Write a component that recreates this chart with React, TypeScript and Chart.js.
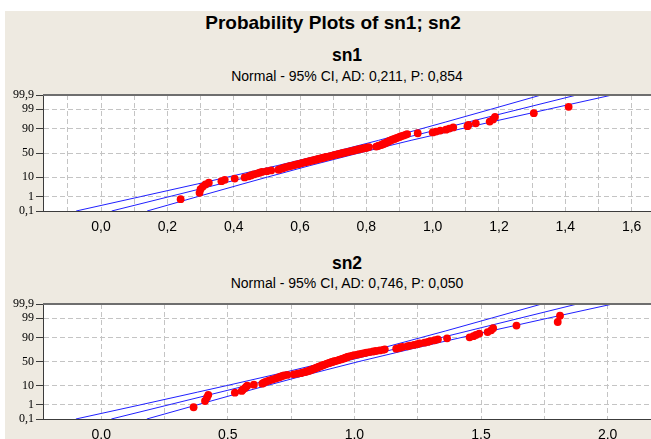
import React, { useEffect, useRef } from 'react';
import { Chart, registerables } from 'chart.js';

Chart.register(...registerables);

// ---------- data ----------
const PROB_TICKS = [0.1, 1, 10, 50, 90, 99, 99.9];
const PROB_LABELS = ['0,1', '1', '10', '50', '90', '99', '99,9'];
const BAND_PCTS = [0.1, 1, 5, 10, 25, 50, 75, 90, 95, 99, 99.9];
const FIT_PCTS = [0.1, 99.9];

const sn1 = [
  0.240, 0.297, 0.300, 0.307, 0.315, 0.325, 0.363, 0.373, 0.403, 0.433,
  0.445, 0.452, 0.460, 0.470, 0.478, 0.485, 0.500, 0.513, 0.535, 0.540,
  0.546, 0.552, 0.558, 0.566, 0.572, 0.580, 0.586, 0.594, 0.600, 0.606,
  0.612, 0.619, 0.626, 0.632, 0.638, 0.645, 0.650, 0.656, 0.662, 0.668,
  0.673, 0.679, 0.686, 0.692, 0.698, 0.703, 0.709, 0.715, 0.721, 0.727,
  0.733, 0.739, 0.745, 0.751, 0.757, 0.763, 0.769, 0.775, 0.782, 0.790,
  0.797, 0.803, 0.808, 0.830, 0.835, 0.838, 0.844, 0.848, 0.852, 0.855,
  0.858, 0.862, 0.865, 0.868, 0.872, 0.875, 0.880, 0.885, 0.890, 0.895,
  0.900, 0.905, 0.912, 0.918, 0.923, 0.955, 1.000, 1.010, 1.023, 1.040,
  1.050, 1.062, 1.105, 1.108, 1.130, 1.172, 1.182, 1.188, 1.305, 1.410,
];
const sn1Fit = [0.032, 1.434];
const sn1BandLow = [-0.075, 0.119, 0.292, 0.382, 0.531, 0.689, 0.837, 0.964, 1.038, 1.175, 1.327];
const sn1BandHigh = [0.139, 0.291, 0.428, 0.502, 0.629, 0.778, 0.935, 1.084, 1.174, 1.347, 1.541];
const sn1XTicks = [-0.1, 0, 0.1, 0.2, 0.3, 0.4, 0.5, 0.6, 0.7, 0.8, 0.9, 1.0, 1.1, 1.2, 1.3, 1.4, 1.5, 1.6, 1.7, 1.8, 1.9];
const sn1XLabels = ['', '0,0', '', '0,2', '', '0,4', '', '0,6', '', '0,8', '', '1,0', '', '1,2', '', '1,4', '', '1,6', '', '1,8', ''];

const sn2 = [
  0.365, 0.410, 0.418, 0.423, 0.528, 0.555, 0.560, 0.568, 0.572, 0.577,
  0.603, 0.636, 0.642, 0.649, 0.657, 0.665, 0.675, 0.685, 0.693, 0.701,
  0.708, 0.714, 0.722, 0.735, 0.760, 0.775, 0.787, 0.795, 0.805, 0.812,
  0.819, 0.824, 0.829, 0.834, 0.839, 0.844, 0.849, 0.854, 0.858, 0.863,
  0.868, 0.873, 0.878, 0.883, 0.888, 0.893, 0.898, 0.904, 0.909, 0.915,
  0.921, 0.928, 0.935, 0.940, 0.946, 0.952, 0.958, 0.963, 0.968, 0.972,
  0.976, 0.985, 0.993, 1.000, 1.012, 1.020, 1.030, 1.040, 1.048, 1.060,
  1.074, 1.085, 1.100, 1.113, 1.120, 1.165, 1.175, 1.183, 1.190, 1.210,
  1.220, 1.235, 1.248, 1.258, 1.277, 1.290, 1.300, 1.317, 1.330, 1.366,
  1.455, 1.470, 1.480, 1.493, 1.526, 1.540, 1.548, 1.640, 1.803, 1.812,
];
const sn2Fit = [0.040, 1.880];
const sn2BandLow = [-0.100, 0.156, 0.381, 0.500, 0.695, 0.902, 1.096, 1.262, 1.361, 1.540, 1.740];
const sn2BandHigh = [0.180, 0.380, 0.560, 0.657, 0.824, 1.018, 1.225, 1.420, 1.539, 1.764, 2.020];
const sn2XTicks = [0, 0.25, 0.5, 0.75, 1.0, 1.25, 1.5, 1.75, 2.0, 2.25, 2.5];
const sn2XLabels = ['0.0', '', '0.5', '', '1.0', '', '1.5', '', '2.0', '', '2.5'];

// ---------- helpers ----------
function probit(p: number): number {
  const a = [-3.969683028665376e1, 2.209460984245205e2, -2.759285104469687e2, 1.38357751867269e2, -3.066479806614716e1, 2.506628277459239];
  const b = [-5.447609879822406e1, 1.615858368580409e2, -1.556989798598866e2, 6.680131188771972e1, -1.328068155288572e1];
  const c = [-7.784894002430293e-3, -3.223964580411365e-1, -2.400758277161838, -2.549732539343734, 4.374664141464968, 2.938163982698783];
  const d = [7.784695709041462e-3, 3.224671290700398e-1, 2.445134137142996, 3.754408661907416];
  const pl = 0.02425;
  if (p < pl) {
    const q = Math.sqrt(-2 * Math.log(p));
    return (((((c[0] * q + c[1]) * q + c[2]) * q + c[3]) * q + c[4]) * q + c[5]) / ((((d[0] * q + d[1]) * q + d[2]) * q + d[3]) * q + 1);
  }
  if (p <= 1 - pl) {
    const q = p - 0.5;
    const r = q * q;
    return ((((((a[0] * r + a[1]) * r + a[2]) * r + a[3]) * r + a[4]) * r + a[5]) * q) / (((((b[0] * r + b[1]) * r + b[2]) * r + b[3]) * r + b[4]) * r + 1);
  }
  const q = Math.sqrt(-2 * Math.log(1 - p));
  return -(((((c[0] * q + c[1]) * q + c[2]) * q + c[3]) * q + c[4]) * q + c[5]) / ((((d[0] * q + d[1]) * q + d[2]) * q + d[3]) * q + 1);
}
const zOf = (pct: number) => probit(pct / 100);
const Z_MIN = zOf(0.1);
const Z_MAX = zOf(99.9);

const CANVAS_W = 760;
const CANVAS_H = 160;
const PLOT_TOP = 10;
const LEFT_W = 43;

interface PanelProps {
  top: number;
  values: number[];
  fit: number[];
  bandLow: number[];
  bandHigh: number[];
  xMin: number;
  xMax: number;
  xTicks: number[];
  xLabels: string[];
  plotH: number;
}

function Panel(props: PanelProps) {
  const ref = useRef<HTMLCanvasElement | null>(null);
  useEffect(() => {
    const canvas = ref.current;
    if (!canvas) return;
    const n = props.values.length;
    const pts = props.values.map((v, i) => ({ x: v, y: zOf(((i + 1 - 0.3) / (n + 0.4)) * 100) }));
    const line = (xs: number[], ps: number[]) => xs.map((x, i) => ({ x, y: zOf(ps[i]) }));
    const lineStyle = {
      showLine: true,
      borderColor: '#2020FF',
      borderWidth: 1,
      pointRadius: 0,
      fill: false,
      tension: 0,
    };
    const framePlugin = {
      id: 'frame',
      beforeDraw(chart: any) {
        const { ctx, chartArea } = chart;
        ctx.save();
        ctx.fillStyle = '#FFFFFF';
        ctx.fillRect(chartArea.left, chartArea.top, chartArea.right - chartArea.left, chartArea.bottom - chartArea.top);
        ctx.restore();
      },
      afterDraw(chart: any) {
        const { ctx, chartArea } = chart;
        ctx.save();
        ctx.strokeStyle = '#6E6E6E';
        ctx.lineWidth = 2;
        ctx.beginPath();
        ctx.moveTo(chartArea.left, chartArea.top);
        ctx.lineTo(chartArea.right, chartArea.top);
        ctx.stroke();
        ctx.restore();
      },
    };
    const chart = new Chart(canvas, {
      type: 'scatter',
      data: {
        datasets: [
          { data: pts, backgroundColor: '#FF0000', borderWidth: 0, pointRadius: 3.9, showLine: false } as any,
          { data: line(props.fit, FIT_PCTS), ...lineStyle } as any,
          { data: line(props.bandLow, BAND_PCTS), ...lineStyle } as any,
          { data: line(props.bandHigh, BAND_PCTS), ...lineStyle } as any,
        ],
      },
      options: {
        animation: false,
        responsive: false,
        maintainAspectRatio: false,
        events: [],
        layout: { padding: { top: PLOT_TOP, left: 0, right: 0, bottom: 0 } },
        plugins: { legend: { display: false }, tooltip: { enabled: false }, title: { display: false } },
        scales: {
          x: {
            type: 'linear',
            min: props.xMin,
            max: props.xMax,
            afterBuildTicks: (s: any) => {
              s.ticks = props.xTicks.map((v) => ({ value: v }));
            },
            afterFit: (s: any) => {
              s.height = CANVAS_H - PLOT_TOP - props.plotH;
            },
            grid: { color: '#C4C4C4', lineWidth: 1, drawTicks: false },
            border: { display: true, color: '#3C3C3C', width: 1, dash: [5, 3] },
            ticks: {
              autoSkip: false,
              maxRotation: 0,
              padding: 8,
              color: '#000000',
              font: { family: '"Liberation Sans", Arial, sans-serif', size: 14 },
              callback: (_v: any, i: number) => props.xLabels[i],
            },
          },
          y: {
            type: 'linear',
            min: Z_MIN,
            max: Z_MAX,
            afterBuildTicks: (s: any) => {
              s.ticks = PROB_TICKS.map((p) => ({ value: zOf(p) }));
            },
            afterFit: (s: any) => {
              s.width = LEFT_W;
            },
            grid: {
              color: (c: any) => (c.index === 0 || c.index === PROB_TICKS.length - 1 ? 'transparent' : '#C4C4C4'),
              lineWidth: 1,
              drawTicks: true,
              tickLength: 7,
              tickColor: '#3C3C3C',
            },
            border: { display: true, color: '#3C3C3C', width: 1, dash: [5, 3] },
            ticks: {
              autoSkip: false,
              padding: 2,
              color: '#000000',
              font: { family: '"Liberation Serif", "Times New Roman", serif', size: 12 },
              callback: (_v: any, i: number) => PROB_LABELS[i],
            },
          },
        },
      } as any,
      plugins: [framePlugin],
    });
    return () => chart.destroy();
  }, []);
  return (
    <canvas
      ref={ref}
      width={CANVAS_W}
      height={CANVAS_H}
      style={{ position: 'absolute', left: 0, top: props.top, width: CANVAS_W, height: CANVAS_H, display: 'block' }}
    />
  );
}

function Label(props: { x: number; y: number; size: number; bold?: boolean; text: string }) {
  return (
    <div
      style={{
        position: 'absolute',
        left: props.x,
        top: props.y,
        transform: 'translate(-50%, -50%)',
        whiteSpace: 'nowrap',
        fontFamily: '"Liberation Sans", Arial, sans-serif',
        fontSize: props.size,
        fontWeight: props.bold ? 'bold' : 'normal',
        lineHeight: 1,
        color: '#000000',
      }}
    >
      {props.text}
    </div>
  );
}

export default function App() {
  return (
    <div style={{ position: 'fixed', left: 0, top: 0, width: 651, height: 439, overflow: 'hidden', background: '#FFFFFF' }}>
      <div style={{ position: 'absolute', left: 5, top: 11, width: 646, height: 428, background: '#EEEAE1' }} />
      <Label x={333} y={22} size={19} bold text="Probability Plots of sn1; sn2" />
      <Label x={347} y={56} size={17.5} bold text="sn1" />
      <Label x={347} y={75.5} size={14} text="Normal - 95% CI, AD: 0,211, P: 0,854" />
      <Panel
        top={85}
        values={sn1}
        fit={sn1Fit}
        bandLow={sn1BandLow}
        bandHigh={sn1BandHigh}
        xMin={-0.175}
        xMax={1.975}
        xTicks={sn1XTicks}
        xLabels={sn1XLabels}
        plotH={116}
      />
      <Label x={347} y={264} size={17.5} bold text="sn2" />
      <Label x={347} y={283} size={14} text="Normal - 95% CI, AD: 0,746, P: 0,050" />
      <Panel
        top={294}
        values={sn2}
        fit={sn2Fit}
        bandLow={sn2BandLow}
        bandHigh={sn2BandHigh}
        xMin={-0.2298}
        xMax={2.586}
        xTicks={sn2XTicks}
        xLabels={sn2XLabels}
        plotH={115}
      />
    </div>
  );
}
